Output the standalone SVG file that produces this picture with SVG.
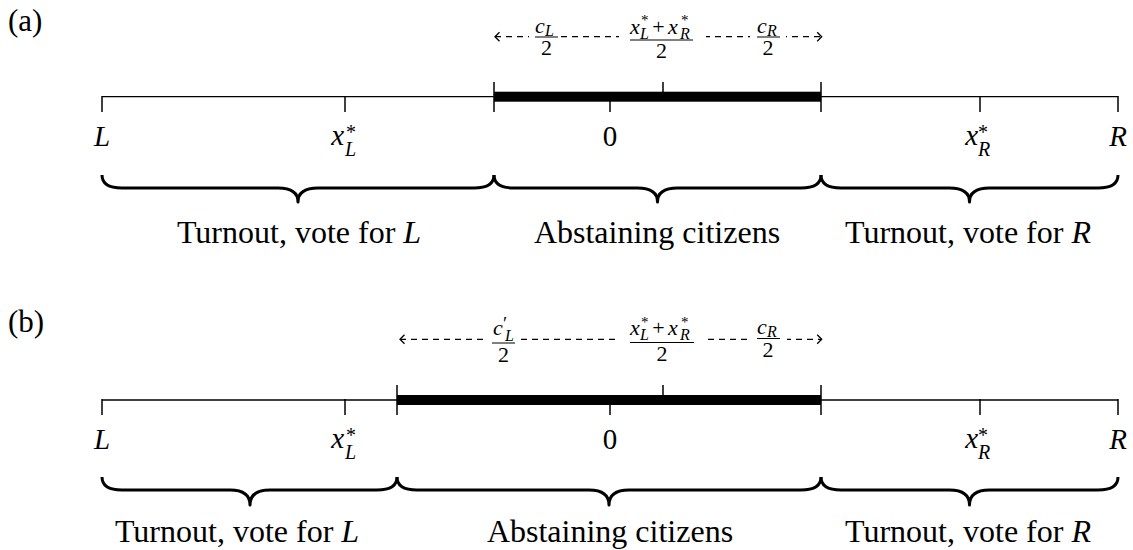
<svg xmlns="http://www.w3.org/2000/svg" width="1133" height="550" viewBox="0 0 1133 550">
<style>
text { font-family: "Liberation Serif", "Times New Roman", serif; fill: #000; }
.i { font-style: italic; }
.lab { font-size: 32px; text-anchor: middle; }
.ax { font-size: 29px; }
.pl { font-size: 31px; }
.mid { text-anchor: middle; }
.end { text-anchor: end; }
.sub { font-size: 20px; font-style: italic; }
.fr { font-size: 22px; }
.frs { font-size: 16px; font-style: italic; }
.sup { font-size: 15px; }
.brace { fill: none; stroke: #000; stroke-width: 3; stroke-linejoin: round; }
.axis { stroke: #000; stroke-width: 1.3; }
.tick { stroke: #000; stroke-width: 1.5; }
.bar { fill: #000; }
.fbar { stroke: #000; stroke-width: 1; }
.dash { stroke: #000; stroke-width: 1.3; stroke-dasharray: 6 5; fill: none; marker-start: url(#ar); marker-end: url(#ar); }
.bg { fill: #fff; }
</style>
<defs>
<marker id="ar" viewBox="-7 -7 9 14" refX="0" refY="0" markerWidth="9" markerHeight="14" markerUnits="userSpaceOnUse" orient="auto-start-reverse">
<path d="M-4.5,-4.5 L0,0 L-4.5,4.5" fill="none" stroke="#000" stroke-width="1.3"/>
</marker>
</defs>
<rect width="1133" height="550" fill="#fff"/>

<!-- Panel (a) -->
<g id="panel-a">
<text class="pl" x="8" y="31">(a)</text>
<g id="a-axis">
<line class="axis" x1="102" y1="96.7" x2="1118" y2="96.7"/>
<rect class="bar" x="494" y="91.7" width="327" height="10"/>
<line class="tick" x1="102" y1="96" x2="102" y2="112"/>
<line class="tick" x1="345" y1="96" x2="345" y2="112"/>
<line class="tick" x1="494" y1="82" x2="494" y2="112"/>
<line class="tick" x1="821" y1="82" x2="821" y2="112"/>
<line class="tick" x1="663" y1="82" x2="663" y2="96"/>
<line class="tick" x1="610" y1="96" x2="610" y2="112"/>
<line class="tick" x1="980" y1="96" x2="980" y2="112"/>
<line class="tick" x1="1118" y1="96" x2="1118" y2="112"/>
</g>
<g id="a-ticklabels">
<text class="ax i mid" x="102" y="146">L</text>
<text class="ax i end" x="344" y="145">x</text><text class="sub" x="345" y="156">L</text><text class="sup" style="font-size:20px" x="346" y="139">*</text>
<text class="ax mid" x="610" y="146">0</text>
<text class="ax i end" x="978" y="145">x</text><text class="sub" x="978" y="156">R</text><text class="sup" style="font-size:20px" x="978" y="139">*</text>
<text class="ax i mid" x="1118" y="146">R</text>
</g>
<g id="a-arrow">
<path class="dash" d="M495,36.7 L821.7,36.7"/>
<rect class="bg" x="529" y="12" width="32" height="48"/>
<rect class="bg" x="619" y="8" width="87" height="54"/>
<rect class="bg" x="750" y="12" width="36" height="48"/>
</g>
<g id="a-frac-cL">
<text class="fr i" x="535" y="33">c</text><text class="frs" x="545" y="36">L</text>
<line class="fbar" x1="535" y1="37" x2="558" y2="37"/>
<text class="fr mid" x="546.5" y="55">2</text>
</g>
<g id="a-frac-sum">
<text class="fr i" x="630" y="34">x</text><text class="frs" x="640" y="38.5">L</text><text class="sup" x="641" y="25">*</text>
<text class="fr mid" x="658.5" y="34">+</text>
<text class="fr i" x="668" y="34">x</text><text class="frs" x="680" y="38.5">R</text><text class="sup" x="681" y="25">*</text>
<line class="fbar" x1="630" y1="40" x2="693" y2="40"/>
<text class="fr mid" x="661.5" y="57.5">2</text>
</g>
<g id="a-frac-cR">
<text class="fr i" x="757" y="33">c</text><text class="frs" x="767" y="36">R</text>
<line class="fbar" x1="757" y1="37" x2="780" y2="37"/>
<text class="fr mid" x="768" y="55">2</text>
</g>
<g id="a-brace-left">
<path class="brace" d="M102,175 C102,182 106,188 122,188 L278,188 C292,188 298,193 298,202 C298,193 304,188 318,188 L474,188 C490,188 494,182 494,175"/>
<text class="lab" x="299" y="243">Turnout, vote for <tspan class="i">L</tspan></text>
</g>
<g id="a-brace-mid">
<path class="brace" d="M494,175 C494,182 498,188 514,188 L637.5,188 C651.5,188 657.5,193 657.5,202 C657.5,193 663.5,188 677.5,188 L801,188 C817,188 821,182 821,175"/>
<text class="lab" x="657" y="243">Abstaining citizens</text>
</g>
<g id="a-brace-right">
<path class="brace" d="M821,175 C821,182 825,188 841,188 L949.5,188 C963.5,188 969.5,193 969.5,202 C969.5,193 975.5,188 989.5,188 L1098,188 C1114,188 1118,182 1118,175"/>
<text class="lab" x="968" y="243">Turnout, vote for <tspan class="i">R</tspan></text>
</g>
</g>

<!-- Panel (b) -->
<g id="panel-b">
<text class="pl" x="8" y="332">(b)</text>
<g id="b-axis">
<line class="axis" x1="102" y1="400" x2="1118" y2="400"/>
<rect class="bar" x="397" y="395" width="424" height="10"/>
<line class="tick" x1="102" y1="399" x2="102" y2="415"/>
<line class="tick" x1="345" y1="399" x2="345" y2="415"/>
<line class="tick" x1="397" y1="385" x2="397" y2="415"/>
<line class="tick" x1="821" y1="385" x2="821" y2="415"/>
<line class="tick" x1="663" y1="385" x2="663" y2="399"/>
<line class="tick" x1="610" y1="399" x2="610" y2="415"/>
<line class="tick" x1="980" y1="399" x2="980" y2="415"/>
<line class="tick" x1="1118" y1="399" x2="1118" y2="415"/>
</g>
<g id="b-ticklabels">
<text class="ax i mid" x="102" y="449">L</text>
<text class="ax i end" x="344" y="448">x</text><text class="sub" x="345" y="459">L</text><text class="sup" style="font-size:20px" x="346" y="442">*</text>
<text class="ax mid" x="610" y="449">0</text>
<text class="ax i end" x="978" y="448">x</text><text class="sub" x="978" y="459">R</text><text class="sup" style="font-size:20px" x="978" y="442">*</text>
<text class="ax i mid" x="1118" y="449">R</text>
</g>
<g id="b-arrow">
<path class="dash" d="M400,339.3 L821.7,339.3"/>
<rect class="bg" x="484" y="312" width="37" height="54"/>
<rect class="bg" x="617" y="310" width="89" height="56"/>
<rect class="bg" x="749" y="314" width="38" height="48"/>
</g>
<g id="b-frac-cL">
<text class="fr i" x="493" y="335">c</text><text class="fr" style="font-size:19px" x="503" y="330">′</text><text class="frs" x="505" y="340.5">L</text>
<line class="fbar" x1="492" y1="343" x2="515" y2="343"/>
<text class="fr mid" x="503.5" y="361.5">2</text>
</g>
<g id="b-frac-sum">
<text class="fr i" x="630" y="335">x</text><text class="frs" x="640" y="340">L</text><text class="sup" x="641" y="327">*</text>
<text class="fr mid" x="658.5" y="335">+</text>
<text class="fr i" x="668" y="335">x</text><text class="frs" x="680" y="340">R</text><text class="sup" x="681" y="327">*</text>
<line class="fbar" x1="630" y1="342.5" x2="694" y2="342.5"/>
<text class="fr mid" x="662" y="361">2</text>
</g>
<g id="b-frac-cR">
<text class="fr i" x="757" y="333.5">c</text><text class="frs" x="767" y="336.5">R</text>
<line class="fbar" x1="757" y1="338.5" x2="780" y2="338.5"/>
<text class="fr mid" x="768" y="356.5">2</text>
</g>
<g id="b-brace-left">
<path class="brace" d="M102,477 C102,484 106,490 122,490 L230,490 C244,490 250,495 250,505 C250,495 256,490 270,490 L377,490 C393,490 397,484 397,477"/>
<text class="lab" x="237" y="542">Turnout, vote for <tspan class="i">L</tspan></text>
</g>
<g id="b-brace-mid">
<path class="brace" d="M397,477 C397,484 401,490 417,490 L589,490 C603,490 609,495 609,505 C609,495 615,490 629,490 L801,490 C817,490 821,484 821,477"/>
<text class="lab" x="610" y="542">Abstaining citizens</text>
</g>
<g id="b-brace-right">
<path class="brace" d="M821,477 C821,484 825,490 841,490 L949.5,490 C963.5,490 969.5,495 969.5,505 C969.5,495 975.5,490 989.5,490 L1098,490 C1114,490 1118,484 1118,477"/>
<text class="lab" x="968" y="542">Turnout, vote for <tspan class="i">R</tspan></text>
</g>
</g>
</svg>
